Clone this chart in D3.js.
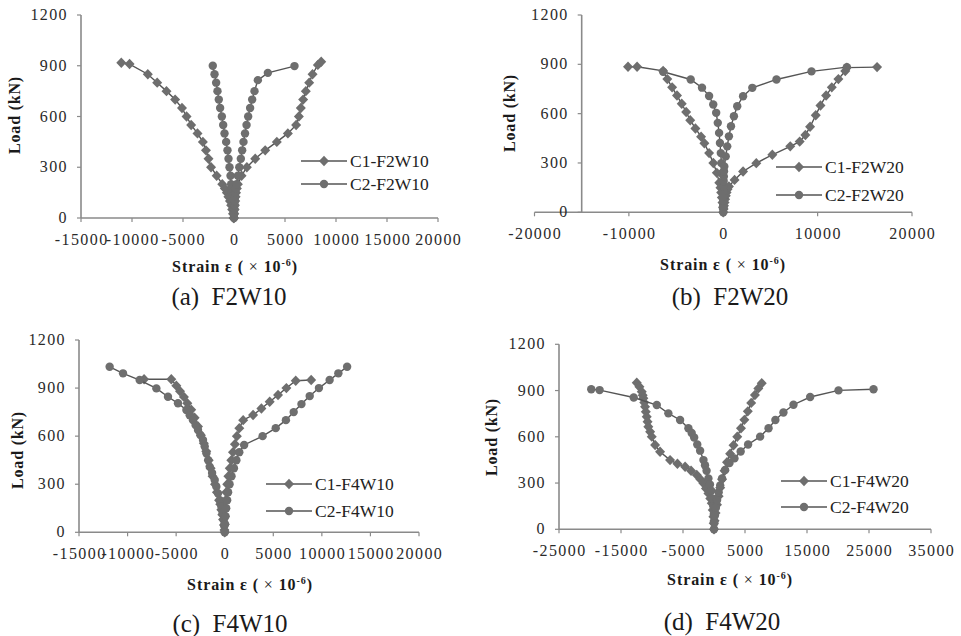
<!DOCTYPE html>
<html>
<head>
<meta charset="utf-8">
<script src="https://cdn.jsdelivr.net/npm/d3@7"></script>
<style>
  html, body { margin: 0; padding: 0; background: #fff; }
  svg { display: block; }
  text { font-family: "Liberation Serif", "DejaVu Serif", serif; }
</style>
</head>
<body>
<div id="chart"></div>
<script>
// Load-strain data, [strain (x10^-6), load (kN)].
// Each series runs from the top of its left gauge down to zero and up the right gauge.
const f2w10C1 = [
  [-11050, 918], [-10240, 910], [-8450, 850], [-7530, 800], [-6620, 750], [-5770, 700],
  [-5100, 650], [-4650, 600], [-4200, 550], [-3580, 500], [-3050, 450], [-2750, 400],
  [-2500, 350], [-2250, 300], [-1700, 250], [-1150, 200], [-900, 175], [-700, 150],
  [-550, 125], [-400, 100], [-280, 75], [-180, 50], [-100, 25], [-50, 0],
  [0, 0], [30, 25], [60, 50], [90, 75], [120, 100], [160, 125], [200, 150], [280, 175],
  [380, 200], [740, 250], [1260, 300], [2080, 350], [3060, 400], [4200, 450], [5280, 500],
  [6090, 550], [6360, 600], [6550, 650], [6780, 700], [7040, 750], [7370, 800], [7700, 850],
  [8220, 905], [8550, 924]
];
const f2w10C2 = [
  [-2080, 900], [-1910, 850], [-1750, 800], [-1620, 750], [-1490, 700], [-1360, 650],
  [-1190, 600], [-1060, 550], [-930, 500], [-770, 450], [-640, 400], [-540, 350],
  [-440, 300], [-340, 250], [-280, 200], [-240, 175], [-200, 150], [-160, 125],
  [-130, 100], [-100, 75], [-70, 50], [-30, 25], [0, 0],
  [20, 25], [40, 50], [60, 75], [80, 100], [110, 125], [140, 150], [190, 175], [250, 200],
  [380, 250], [520, 300], [670, 350], [800, 400], [930, 450], [1080, 500], [1230, 550],
  [1390, 600], [1580, 650], [1780, 700], [2010, 750], [2340, 815], [3320, 858], [5930, 898]
];

const f2w20C1 = [
  [-10090, 885], [-9130, 885], [-6370, 860], [-5930, 810], [-5420, 760], [-4900, 710],
  [-4400, 660], [-3930, 610], [-3500, 560], [-2950, 510], [-2350, 460], [-2000, 420],
  [-1500, 360], [-1050, 300], [-680, 240], [-420, 180], [-300, 150], [-220, 120],
  [-150, 90], [-80, 60], [-30, 30], [0, 0],
  [40, 20], [80, 40], [140, 60], [200, 80], [270, 100], [350, 120], [450, 140], [600, 157],
  [1200, 197], [2100, 248], [3500, 299], [5200, 350], [7100, 401], [8100, 430], [8700, 470],
  [9200, 520], [9800, 590], [10300, 650], [10900, 710], [11500, 760], [12200, 810],
  [12930, 859], [13100, 880], [16300, 883]
];
const f2w20C2 = [
  [-6370, 855], [-3450, 808], [-2250, 758], [-1500, 707], [-1060, 656], [-750, 605],
  [-580, 544], [-440, 483], [-350, 422], [-260, 360], [-200, 299], [-140, 238],
  [-90, 177], [-70, 150], [-50, 116], [-35, 85], [-20, 55], [-10, 25], [0, 0],
  [0, 35], [10, 70], [10, 96], [20, 130], [30, 157], [45, 190], [60, 218], [80, 250],
  [110, 279], [260, 340], [420, 401], [600, 462], [820, 523], [1130, 584], [1480, 645],
  [2100, 706], [3080, 757], [5640, 808], [9350, 857], [13100, 883]
];

const f4w10C1 = [
  [-8300, 955], [-5500, 955], [-4980, 915], [-4600, 880], [-4200, 845], [-3850, 805],
  [-3450, 765], [-3100, 715], [-2750, 660], [-2450, 605], [-2150, 555], [-1900, 505],
  [-1650, 450], [-1450, 400], [-1250, 350], [-1000, 300], [-800, 250], [-580, 200],
  [-460, 175], [-350, 140], [-250, 110], [-170, 80], [-80, 45], [-30, 15], [0, 0],
  [10, 50], [30, 100], [60, 150], [100, 200], [160, 250], [260, 300], [380, 350],
  [520, 400], [680, 450], [850, 500], [1050, 550], [1250, 600], [1500, 650], [1900, 700],
  [2920, 732], [3775, 773], [4630, 815], [5490, 857], [6350, 900], [7310, 946], [8900, 950]
];
const f4w10C2 = [
  [-11845, 1033], [-10470, 992], [-8755, 950], [-7035, 898], [-5840, 846], [-4810, 805],
  [-3945, 763], [-3600, 730], [-3265, 700], [-3000, 670], [-2750, 638], [-2500, 607],
  [-2235, 576], [-2060, 535], [-1885, 493], [-1700, 450], [-1545, 410], [-1300, 370],
  [-1030, 326], [-860, 285], [-690, 243], [-500, 200], [-340, 160], [-220, 120],
  [-100, 77], [-50, 40], [0, 0],
  [30, 50], [80, 100], [150, 150], [250, 200], [350, 250], [500, 300], [700, 350],
  [950, 400], [1200, 450], [1500, 500], [2000, 545], [3900, 600], [5250, 650], [6300, 700],
  [7100, 750], [7900, 800], [8750, 850], [9700, 900], [10800, 950], [11700, 992], [12600, 1033]
];

const f4w20C1 = [
  [-12460, 951], [-12030, 925], [-11650, 893], [-11500, 870], [-11390, 850], [-11250, 822],
  [-11120, 795], [-11000, 762], [-10850, 730], [-10720, 698], [-10590, 665], [-10300, 633],
  [-10040, 601], [-9500, 547], [-8700, 503], [-7090, 449], [-5900, 425], [-4660, 406],
  [-3700, 380], [-2780, 352], [-2200, 325], [-1710, 298], [-1300, 265], [-900, 233],
  [-600, 200], [-360, 169], [-200, 125], [-100, 82], [-50, 40], [0, 0],
  [100, 55], [250, 105], [480, 160], [750, 215], [1000, 270], [1300, 325], [1700, 380],
  [2100, 435], [2600, 490], [3150, 545], [3750, 600], [4350, 655], [4900, 710],
  [5450, 765], [6000, 820], [6600, 871], [7150, 914], [7700, 947]
];
const f4w20C2 = [
  [-19800, 908], [-18450, 903], [-12950, 855], [-9230, 806], [-7360, 752], [-5470, 709],
  [-4130, 655], [-3600, 625], [-3200, 595], [-2700, 550], [-2240, 510], [-1700, 449],
  [-1450, 415], [-1200, 380], [-900, 330], [-650, 290], [-450, 250], [-250, 200],
  [-100, 150], [-30, 100], [0, 50], [0, 0],
  [50, 40], [150, 90], [300, 140], [500, 190], [750, 240], [1000, 285], [1300, 330],
  [1790, 385], [2500, 430], [3300, 460], [4300, 505], [5500, 550], [7440, 601], [8800, 655],
  [9900, 709], [11200, 758], [12820, 808], [15510, 858], [20080, 901], [25730, 908]
];

// Axis ticks and labels
const loadTicks = [0, 300, 600, 900, 1200];
const strainTicksA = [-15000, -10000, -5000, 0, 5000, 10000, 15000, 20000];
const strainTicksB = [-20000, -10000, 0, 10000, 20000];
const strainTicksC = [-15000, -10000, -5000, 0, 5000, 10000, 15000, 20000];
const strainTicksD = [-25000, -15000, -5000, 5000, 15000, 25000, 35000];
const seriesNames = ["C1", "C2"];
const panelNames = ["F2W10", "F2W20", "F4W10", "F4W20"];
const panelLetters = ["(a)", "(b)", "(c)", "(d)"];

const W = 961, H = 636;
const svg = d3.select("#chart").append("svg")
  .attr("width", W)
  .attr("height", H);

svg.append("rect").attr("width", W).attr("height", H).attr("fill", "#ffffff");

const axisColor = "#8a8a8a";
const lineColor = "#555555";
const markColor = "#6e6e6e";

const diamondPath = "M0,-5.2L5,0L0,5.2L-5,0Z";

// pixel boxes for each panel (plot area)
const panels = [
  { series: [f2w10C1, f2w10C2], ticks: strainTicksA, domain: [-15000, 20000], yAxisAt: -15000,
    px: [81, 438], py: [218, 15], legend: [301, 161, 184], loadLabel: [15, 115],
    strainLabel: [235, 267], caption: [229, 305] },
  { series: [f2w20C1, f2w20C2], ticks: strainTicksB, domain: [-20000, 20000], yAxisAt: -15000,
    px: [534.5, 912], py: [212.3, 15], legend: [776, 167, 195], loadLabel: [510, 113],
    strainLabel: [723, 265], caption: [730, 305] },
  { series: [f4w10C1, f4w10C2], ticks: strainTicksC, domain: [-15000, 20000], yAxisAt: -15000,
    px: [79, 419], py: [532.3, 340], legend: [266, 484, 511], loadLabel: [18, 450],
    strainLabel: [250, 585], caption: [230, 632] },
  { series: [f4w20C1, f4w20C2], ticks: strainTicksD, domain: [-25000, 35000], yAxisAt: -25000,
    px: [559, 931], py: [529.3, 344.3], legend: [781, 481, 507], loadLabel: [492, 437],
    strainLabel: [730, 580], caption: [722, 630] }
];

function drawMarker(g, kind, x, y) {
  if (kind === 0) {
    g.append("path")
      .attr("d", diamondPath)
      .attr("transform", `translate(${x},${y})`)
      .attr("fill", markColor);
  } else {
    g.append("circle")
      .attr("cx", x)
      .attr("cy", y)
      .attr("r", 4.2)
      .attr("fill", markColor);
  }
}

panels.forEach((p, i) => {
  const g = svg.append("g");

  const x = d3.scaleLinear().domain(p.domain).range(p.px);
  const y = d3.scaleLinear().domain([0, 1200]).range(p.py);
  const yAxisX = x(p.yAxisAt);

  // x axis line and ticks
  g.append("line")
    .attr("x1", p.px[0]).attr("x2", p.px[1])
    .attr("y1", y(0)).attr("y2", y(0))
    .attr("stroke", axisColor).attr("stroke-width", 1.6);
  p.ticks.forEach(t => {
    g.append("line")
      .attr("x1", x(t)).attr("x2", x(t))
      .attr("y1", y(0)).attr("y2", y(0) + 4)
      .attr("stroke", axisColor).attr("stroke-width", 1.2);
    g.append("text")
      .attr("x", x(t) + 0.7)
      .attr("y", y(0) + 27)
      .attr("text-anchor", "middle")
      .attr("font-size", "16px")
      .attr("letter-spacing", "1.4px")
      .attr("fill", "#2a2a2a")
      .text(t);
  });

  // y axis line and ticks
  g.append("line")
    .attr("x1", yAxisX).attr("x2", yAxisX)
    .attr("y1", y(0)).attr("y2", y(1200))
    .attr("stroke", axisColor).attr("stroke-width", 1.6);
  loadTicks.forEach(t => {
    g.append("line")
      .attr("x1", yAxisX - 4).attr("x2", yAxisX)
      .attr("y1", y(t)).attr("y2", y(t))
      .attr("stroke", axisColor).attr("stroke-width", 1.2);
    g.append("text")
      .attr("x", yAxisX - 13)
      .attr("y", y(t) + 5)
      .attr("text-anchor", "end")
      .attr("font-size", "16px")
      .attr("letter-spacing", "1.4px")
      .attr("fill", "#2a2a2a")
      .text(t);
  });

  // series lines and markers
  const line = d3.line().x(d => x(d[0])).y(d => y(d[1]));
  p.series.forEach((data, s) => {
    g.append("path")
      .datum(data)
      .attr("d", line)
      .attr("fill", "none")
      .attr("stroke", lineColor)
      .attr("stroke-width", 1.4);
    data.forEach(d => drawMarker(g, s, x(d[0]), y(d[1])));
  });

  // legend
  seriesNames.forEach((name, s) => {
    const ly = p.legend[1 + s];
    g.append("line")
      .attr("x1", p.legend[0]).attr("x2", p.legend[0] + 46)
      .attr("y1", ly).attr("y2", ly)
      .attr("stroke", lineColor).attr("stroke-width", 1.4);
    drawMarker(g, s, p.legend[0] + 23, ly);
    g.append("text")
      .attr("x", p.legend[0] + 49)
      .attr("y", ly + 6)
      .attr("font-size", "17.5px")
      .attr("fill", "#222")
      .text(`${name}-${panelNames[i]}`);
  });

  // axis titles
  g.append("text")
    .attr("transform", `translate(${p.loadLabel[0] + 5},${p.loadLabel[1]}) rotate(-90)`)
    .attr("text-anchor", "middle")
    .attr("font-size", "16px")
    .attr("font-weight", "bold")
    .attr("letter-spacing", "0.8px")
    .attr("fill", "#1a1a1a")
    .text("Load (kN)");

  const st = g.append("text")
    .attr("x", p.strainLabel[0])
    .attr("y", p.strainLabel[1] + 5)
    .attr("text-anchor", "middle")
    .attr("font-size", "16px")
    .attr("font-weight", "bold")
    .attr("letter-spacing", "0.9px")
    .attr("fill", "#1a1a1a");
  st.append("tspan").text("Strain ε ( ");
  st.append("tspan").attr("font-weight", "normal").text("×");
  st.append("tspan").text(" 10");
  st.append("tspan").attr("font-size", "10px").attr("dy", -6).text("-6");
  st.append("tspan").attr("dy", 6).text(")");

  // caption
  g.append("text")
    .attr("x", p.caption[0])
    .attr("y", p.caption[1])
    .attr("text-anchor", "middle")
    .attr("font-size", "25px")
    .attr("fill", "#1a1a1a")
    .style("white-space", "pre")
    .text(`${panelLetters[i]}  ${panelNames[i]}`);
});
</script>
</body>
</html>
